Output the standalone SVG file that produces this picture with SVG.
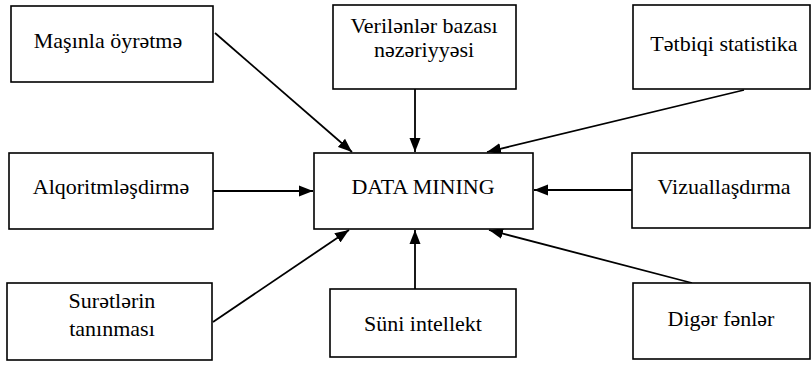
<svg xmlns="http://www.w3.org/2000/svg" width="812" height="368" viewBox="0 0 812 368">
<style>
.box{fill:#fff;stroke:#000;stroke-width:1.6}
text{font-family:"Liberation Serif","Times New Roman",serif;font-size:22px;fill:#000;text-anchor:middle}
.c{stroke:#000;stroke-width:1.8;fill:none;marker-end:url(#ah)}
</style>
<defs>
<marker id="ah" markerUnits="userSpaceOnUse" markerWidth="16" markerHeight="12" refX="14" refY="6" orient="auto">
<path d="M0,0.5 L14,6 L0,11.5 z" fill="#000"/>
</marker>
</defs>
<g id="connectors">
<line class="c" x1="215" y1="33" x2="352" y2="152"/>
<line class="c" x1="415" y1="89" x2="415" y2="152"/>
<line class="c" x1="744" y1="90" x2="487" y2="152"/>
<line class="c" x1="213" y1="191" x2="313" y2="191"/>
<line class="c" x1="632" y1="190" x2="534" y2="190"/>
<line class="c" x1="213" y1="322" x2="349" y2="230"/>
<line class="c" x1="415" y1="289" x2="415" y2="230"/>
<line class="c" x1="692" y1="283" x2="489" y2="230"/>
</g>
<g id="n-masinla"><rect class="box" x="11" y="6" width="202" height="76"/><text x="108" y="48">Maşınla öyrətmə</text></g>
<g id="n-verilenler"><rect class="box" x="333" y="5" width="183" height="84"/><text x="424" y="33">Verilənlər bazası</text><text x="424" y="57">nəzəriyyəsi</text></g>
<g id="n-tetbiqi"><rect class="box" x="633" y="5" width="177" height="84"/><text x="724" y="51">Tətbiqi statistika</text></g>
<g id="n-alqoritm"><rect class="box" x="9" y="153" width="204" height="76"/><text x="111" y="194">Alqoritmləşdirmə</text></g>
<g id="n-datamining"><rect class="box" x="314" y="153" width="219" height="76"/><text x="423" y="194">DATA MINING</text></g>
<g id="n-vizual"><rect class="box" x="632" y="153" width="178" height="75"/><text x="724" y="194">Vizuallaşdırma</text></g>
<g id="n-suret"><rect class="box" x="7" y="283" width="205" height="77"/><text x="112" y="308">Surətlərin</text><text x="112" y="336">tanınması</text></g>
<g id="n-suni"><rect class="box" x="330" y="289" width="186" height="68"/><text x="423" y="331">Süni intellekt</text></g>
<g id="n-diger"><rect class="box" x="633" y="283" width="177" height="76"/><text x="721" y="326">Digər fənlər</text></g>
</svg>
